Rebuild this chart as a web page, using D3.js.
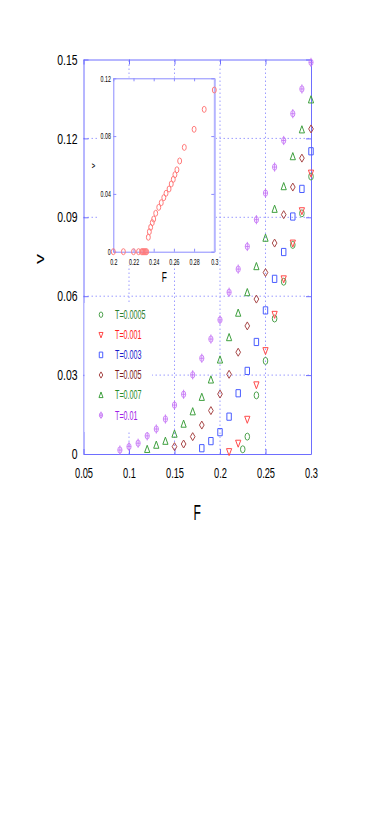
<!DOCTYPE html>
<html><head><meta charset="utf-8">
<script src="https://cdn.jsdelivr.net/npm/d3@7"></script>
<style>html,body{margin:0;padding:0;background:#fff;} svg{display:block;}</style>
</head><body>
<script>
// ---------- data ----------
const xTicks = [0.05, 0.1, 0.15, 0.2, 0.25, 0.3];
const xTickLabels = ["0.05", "0.1", "0.15", "0.2", "0.25", "0.3"];
const yTicks = [0, 0.03, 0.06, 0.09, 0.12, 0.15];
const yTickLabels = ["0", "0.03", "0.06", "0.09", "0.12", "0.15"];
const seriesNames = ["T=0.0005", "T=0.001", "T=0.003", "T=0.005", "T=0.007", "T=0.01"];

const F_T0005 = [0.225, 0.23, 0.24, 0.25, 0.26, 0.27, 0.28, 0.29, 0.30];
const V_T0005 = [0.0018, 0.0066, 0.0223, 0.0354, 0.0515, 0.0655, 0.0795, 0.0915, 0.1055];
const F_T001 = [0.21, 0.22, 0.23, 0.24, 0.25, 0.26, 0.27, 0.28, 0.29, 0.30];
const V_T001 = [0.0009, 0.0041, 0.0132, 0.0263, 0.0393, 0.0531, 0.0666, 0.0802, 0.0925, 0.1068];
const F_T003 = [0.18, 0.19, 0.20, 0.21, 0.22, 0.23, 0.24, 0.25, 0.26, 0.27, 0.28, 0.29, 0.30];
const V_T003 = [0.0022, 0.0049, 0.0083, 0.0142, 0.0231, 0.0316, 0.0426, 0.0546, 0.0666, 0.0768, 0.0903, 0.1008, 0.1151];
const F_T005 = [0.15, 0.16, 0.17, 0.18, 0.19, 0.20, 0.21, 0.22, 0.23, 0.24, 0.25, 0.26, 0.27, 0.28, 0.29, 0.30];
const V_T005 = [0.0028, 0.0038, 0.0066, 0.0110, 0.0165, 0.0228, 0.0303, 0.0387, 0.0487, 0.0589, 0.0690, 0.0802, 0.0910, 0.1015, 0.1125, 0.1236];
const F_T007 = [0.12, 0.13, 0.14, 0.15, 0.16, 0.17, 0.18, 0.19, 0.20, 0.21, 0.22, 0.23, 0.24, 0.25, 0.26, 0.27, 0.28, 0.29, 0.30];
const V_T007 = [0.0018, 0.0034, 0.0049, 0.0076, 0.0114, 0.0161, 0.0216, 0.0282, 0.0358, 0.0443, 0.0536, 0.0614, 0.0713, 0.0821, 0.0931, 0.1017, 0.1131, 0.1233, 0.1347];
const F_T01 = [0.09, 0.10, 0.11, 0.12, 0.13, 0.14, 0.15, 0.16, 0.17, 0.18, 0.19, 0.20, 0.21, 0.22, 0.23, 0.24, 0.25, 0.26, 0.27, 0.28, 0.29, 0.30];
const V_T01 = [0.0015, 0.0028, 0.0041, 0.0069, 0.0095, 0.0133, 0.0186, 0.0227, 0.0301, 0.0364, 0.0437, 0.0510, 0.0615, 0.0703, 0.0789, 0.0891, 0.0992, 0.1091, 0.1192, 0.1294, 0.1388, 0.1489];

const insetXTicks = [0.2, 0.22, 0.24, 0.26, 0.28, 0.3];
const insetXTickLabels = ["0.2", "0.22", "0.24", "0.26", "0.28", "0.3"];
const insetYTicks = [0, 0.04, 0.08, 0.12];
const insetYTickLabels = ["0", "0.04", "0.08", "0.12"];
const insetF = [0.200, 0.210, 0.220, 0.225, 0.228, 0.229, 0.230, 0.231, 0.232, 0.233, 0.2347, 0.2357, 0.237, 0.2386, 0.240, 0.242, 0.245, 0.2475, 0.250, 0.2522, 0.2552, 0.2574, 0.2594, 0.261, 0.263, 0.2657, 0.2703, 0.280, 0.290, 0.300];
const insetV = [0, 0, 0, 0, 0, 0, 0, 0, 0, 0, 0.0100, 0.0138, 0.0169, 0.0201, 0.0226, 0.0266, 0.0307, 0.0339, 0.0374, 0.0404, 0.0434, 0.0469, 0.0501, 0.0533, 0.0567, 0.0628, 0.0722, 0.0847, 0.0985, 0.1119];

// ---------- styles ----------
const seriesF = [F_T0005, F_T001, F_T003, F_T005, F_T007, F_T01];
const seriesV = [V_T0005, V_T001, V_T003, V_T005, V_T007, V_T01];
const markerTypes = ["circle", "tridown", "square", "diamond", "triup", "phi"];
const markerColors = ["#4fa24f", "#ff4a4a", "#4a5dff", "#a84848", "#3fa03f", "#c473f5"];
const labelColors = ["#2d7d2d", "#ff2020", "#1a1acc", "#7a1a1a", "#2a8a2a", "#a020e8"];
const FONT = "'Liberation Sans', Arial, sans-serif";
const axisColor = "#6e6eff", gridColor = "#9c9cff", insetAxisColor = "#8a8aff";

const svg = d3.select("body").append("svg").attr("width", 392).attr("height", 831)
  .style("font-family", FONT);

const x = d3.scaleLinear().domain([0.05, 0.3]).range([83.5, 311]);
const y = d3.scaleLinear().domain([0, 0.15]).range([454, 59.5]);

// grid
const grid = svg.append("g").attr("stroke", gridColor).attr("stroke-dasharray", "1.5,2.5").attr("stroke-width", 1);
grid.selectAll("line.gx").data(xTicks.slice(1, -1)).join("line").attr("class", "gx")
  .attr("x1", d => x(d)).attr("x2", d => x(d)).attr("y1", y(0)).attr("y2", y(0.15));
grid.selectAll("line.gy").data(yTicks.slice(1, -1)).join("line").attr("class", "gy")
  .attr("y1", d => y(d)).attr("y2", d => y(d)).attr("x1", x(0.05)).attr("x2", x(0.3));

function styleAxis(g, color, size, sx, fontSize, padX) {
  g.attr("font-family", FONT).attr("font-size", fontSize);
  g.select(".domain").attr("stroke", color);
  g.selectAll(".tick line").attr("stroke", color);
  g.selectAll(".tick text").attr("fill", "#000").attr("transform", `scale(${sx},1)`);
  if (padX !== undefined) g.selectAll(".tick text").attr("x", padX / sx);
}

const fmtX = d => xTickLabels[xTicks.indexOf(d)];
const fmtY = d => yTickLabels[yTicks.indexOf(d)];

const gB = svg.append("g").attr("transform", `translate(0,${y(0)})`)
  .call(d3.axisBottom(x).tickValues(xTicks).tickFormat(fmtX).tickSize(-5).tickSizeOuter(0).tickPadding(13.5));
styleAxis(gB, axisColor, 5, 0.6, 15.5);
const gT = svg.append("g").attr("transform", `translate(0,${y(0.15)})`)
  .call(d3.axisTop(x).tickValues(xTicks).tickFormat("").tickSize(-5).tickSizeOuter(0));
styleAxis(gT, axisColor, 5, 1, 10);
const gL = svg.append("g").attr("transform", `translate(${x(0.05)},0)`)
  .call(d3.axisLeft(y).tickValues(yTicks).tickFormat(fmtY).tickSize(-5).tickSizeOuter(0).tickPadding(6));
styleAxis(gL, axisColor, 5, 0.72, 14.5, -6);
const gR = svg.append("g").attr("transform", `translate(${x(0.3)},0)`)
  .call(d3.axisRight(y).tickValues(yTicks).tickFormat("").tickSize(-5).tickSizeOuter(0));
styleAxis(gR, axisColor, 5, 1, 10);

// markers
function markerPath(type) {
  switch (type) {
    case "circle": return "M3.5,0A3.5,3.5 0 1,1 -3.5,0A3.5,3.5 0 1,1 3.5,0Z";
    case "tridown": return "M-4,-3L4,-3L0,4Z";
    case "square": return "M-3.4,-3.6H3.4V3.6H-3.4Z";
    case "diamond": return "M0,-4L3.6,0L0,4L-3.6,0Z";
    case "triup": return "M0,-4L4,3.2L-4,3.2Z";
    case "phi": return "M3.2,0A3.2,3.2 0 1,1 -3.2,0A3.2,3.2 0 1,1 3.2,0Z M0,-4.6V4.6 M-3.2,0H3.2";
  }
}
function drawMarker(parent, type, color, cx, cy, k) {
  parent.append("path").attr("d", markerPath(type))
    .attr("transform", `translate(${cx},${cy}) scale(${0.65 * k},${k})`)
    .attr("fill", "none").attr("stroke", color).attr("stroke-width", type === "phi" ? 0.85 : 1)
    .attr("vector-effect", "non-scaling-stroke");
}

const pts = svg.append("g");
seriesF.forEach((fs, si) => {
  fs.forEach((f, i) => drawMarker(pts, markerTypes[si], markerColors[si], x(f), y(seriesV[si][i]), 1));
});

// axis titles
svg.append("text").attr("transform", `translate(${(x(0.05) + x(0.3)) / 2},520) scale(0.55,1)`)
  .attr("text-anchor", "middle").attr("font-size", 22).attr("fill", "#000").text("F");
svg.append("text").attr("transform", `translate(40,259) scale(0.6,1) rotate(-90)`)
  .attr("text-anchor", "middle").attr("dy", "0.3em").attr("font-size", 20).attr("fill", "#000").text("v");

// legend
const leg = svg.append("g");
leg.append("rect").attr("x", 84.5).attr("y", 303).attr("width", 67.5).attr("height", 129).attr("fill", "#fff");
seriesNames.forEach((name, i) => {
  const cy = 314.7 + i * 20.1;
  drawMarker(leg, markerTypes[i], markerColors[i], 101, cy, 0.78);
  leg.append("text").attr("transform", `translate(115,${cy}) scale(0.6,1)`)
    .attr("dy", "0.36em").attr("font-size", 12).attr("fill", labelColors[i]).text(name);
});

// inset
const ix = d3.scaleLinear().domain([0.2, 0.3]).range([113.3, 214.3]);
const iy = d3.scaleLinear().domain([0, 0.12]).range([251.7, 78.3]);
const inset = svg.append("g");
inset.append("rect").attr("x", 99).attr("y", 77.5).attr("width", 116.5).attr("height", 188).attr("fill", "#fff");
const fmtIX = d => insetXTickLabels[insetXTicks.indexOf(d)];
const fmtIY = d => insetYTickLabels[insetYTicks.indexOf(d)];
const iB = inset.append("g").attr("transform", `translate(0,${iy(0)})`)
  .call(d3.axisBottom(ix).tickValues(insetXTicks).tickFormat(fmtIX).tickSize(-3).tickSizeOuter(0).tickPadding(7.5));
styleAxis(iB, insetAxisColor, 3, 0.62, 8.5);
const iT = inset.append("g").attr("transform", `translate(0,${iy(0.12)})`)
  .call(d3.axisTop(ix).tickValues(insetXTicks).tickFormat("").tickSize(-3).tickSizeOuter(0));
styleAxis(iT, insetAxisColor, 3, 1, 8);
const iL = inset.append("g").attr("transform", `translate(${ix(0.2)},0)`)
  .call(d3.axisLeft(iy).tickValues(insetYTicks).tickFormat(fmtIY).tickSize(-3).tickSizeOuter(0).tickPadding(2.5));
styleAxis(iL, insetAxisColor, 3, 0.62, 8.5, -2.5);
const iR = inset.append("g").attr("transform", `translate(${ix(0.3)},0)`)
  .call(d3.axisRight(iy).tickValues(insetYTicks).tickFormat("").tickSize(-3).tickSizeOuter(0));
styleAxis(iR, insetAxisColor, 3, 1, 8);
iR.select(".domain").attr("stroke", "#b4b4ff").attr("stroke-width", 2);

insetF.forEach((f, i) => {
  inset.append("path").attr("d", "M3,0A3,3 0 1,1 -3,0A3,3 0 1,1 3,0Z")
    .attr("transform", `translate(${ix(f)},${iy(insetV[i])}) scale(0.65,1)`)
    .attr("fill", "none").attr("stroke", "#ff7b7b").attr("stroke-width", 1)
    .attr("vector-effect", "non-scaling-stroke");
});
inset.append("text").attr("transform", `translate(164.3,281.5) scale(0.6,1)`)
  .attr("text-anchor", "middle").attr("font-size", 14).attr("fill", "#000").text("F");
inset.append("text").attr("transform", `translate(93.5,165.8) scale(0.6,1) rotate(-90)`)
  .attr("text-anchor", "middle").attr("dy", "0.3em").attr("font-size", 10).attr("fill", "#000").text("v");
</script>
</body></html>
